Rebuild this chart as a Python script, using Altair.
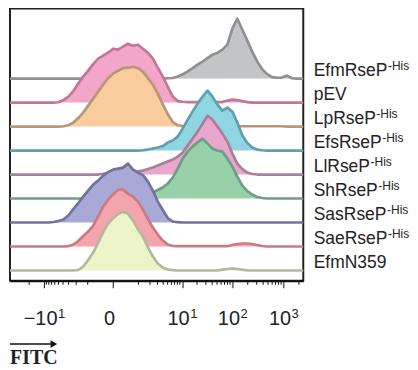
import altair as alt
import pandas as pd

# ---------------- data ----------------
NAMES = ["EfmRseP", "pEV", "LpRseP", "EfsRseP", "LlRseP", "ShRseP", "SasRseP", "SaeRseP", "EfmN359"]
SUPS = ["-His", "", "-His", "-His", "-His", "-His", "-His", "-His", ""]

FILLS = ["#c3c4c8", "#f2a7c9", "#f9cc9e", "#90d6e0", "#e9a8cb", "#98d1a9", "#a9a9d8", "#f4a5ab", "#eef4c9"]
LINES = ["#8f9094", "#c0779a", "#b8967a", "#5f9fae", "#a8809c", "#6f9e86", "#70729e", "#c97a84", "#b5b99c"]

# FITC intensity grid (biexponential-like axis)
FITC = [-48, -40.6, -32.4, -25.8, -20.5, -16.3, -13.0, -10.3, -8.12, -6.40,
        -5.02, -3.92, -3.04, -2.34, -1.78, -1.33, -0.97, -0.68, -0.45, -0.265,
        -0.118, 0, 0.118, 0.265, 0.45, 0.68, 0.97, 1.33, 1.78, 2.34,
        3.04, 3.92, 5.02, 6.40, 8.12, 10.3, 13.0, 16.3, 20.5, 25.8,
        32.4, 40.6, 50.9, 63.7, 79.8, 99.9, 125, 157, 196, 245,
        307, 383, 480, 600, 750, 938, 1173, 1467, 1835, 2295,
        2435]

EFM = [0, 0, 0, 0, 0, 0, 0, 0, 0, 0,
       0, 0, 0, 0, 0, 0, 0, 0, 0, 0,
       0, 0, 0, 0, 0, 0, 0, 0, 0, 0,
       0, 0, 0.3, 0.6, 2, 4.3, 7.3, 10.5, 14, 17,
       20.5, 24, 26, 29, 34, 50, 60, 49, 38, 27,
       17, 9.5, 4.5, 1.5, 0.8, 1, 3, 0.3, 0, 0,
       0]
PEV = [0, 0, 0, 0, 0, 0, 0, 0, 0, 0,
       0.3, 2.5, 6, 11.5, 19, 26, 32, 38.5, 44, 47,
       50, 54, 53, 56, 59, 57, 58, 54, 50, 44,
       35, 26, 16, 6, 1.5, 0.8, 0.5, 0.5, 0.5, 0.5,
       0.5, 0.5, 0.5, 0.5, 2, 3, 2.5, 1.5, 0.5, 0,
       0, 0, 0, 0, 0, 0, 0, 0, 0, 0,
       0]
LP = [0, 0, 0, 0, 0, 0, 0, 0, 0, 0,
      0, 0.3, 1.3, 4, 8.5, 14, 21, 28, 35, 42,
      48.5, 53, 56, 58.5, 59, 60, 58.5, 55, 48.5, 42,
      33, 22.5, 12.5, 4.5, 1.3, 0.5, 0.3, 0.3, 0.3, 0.3,
      0.3, 0.3, 0.3, 0.3, 0.3, 0.3, 0.3, 0.3, 0.3, 0.3,
      0.3, 0.3, 0.3, 0.3, 0.3, 0.3, 0, 0, 0, 0,
      0]
EFS = [0, 0, 0, 0, 0, 0, 0, 0, 0, 0,
       0, 0, 0, 0, 0, 0, 0, 0, 0, 0,
       0, 0, 0, 0, 0, 0, 0, 0.3, 1, 2,
       3, 4.5, 8, 10, 14, 22, 31, 39, 47, 54,
       60, 54, 46, 40, 43, 39, 28, 15, 7.5, 3,
       1, 0.3, 0, 0, 0, 0, 0, 0, 0, 0,
       0]
LL = [0, 0, 0, 0, 0, 0, 0, 0, 0, 0,
      0, 0, 0, 0, 0, 0, 0, 0, 0, 0.8,
      1.2, 1.5, 1.8, 2, 2.3, 2.7, 3.3, 4, 5.5, 7,
      9, 11, 13, 15, 18, 22, 29, 36, 43, 51,
      59, 55, 48, 41, 33, 21, 11, 5.5, 2, 0.5,
      0, 0, 0, 0, 0, 0, 0, 0, 0, 0,
      0]
SH = [0, 0, 0, 0, 0, 0, 0, 0, 0, 0,
      0, 0, 0, 0, 0, 0, 0, 0, 0, 0,
      0, 0, 0, 0, 0, 0.5, 1, 2, 3.5, 6,
      8.5, 11, 15, 21, 30, 40, 47, 52, 56, 60,
      55, 50, 48, 47, 40, 32, 22, 13, 7.5, 4,
      1.5, 0.5, 0, 0, 0, 0, 0, 0, 0, 0,
      0]
SAS = [0, 0, 0, 0, 0, 0, 0, 0, 0, 0.5,
       1.5, 3, 7, 13.5, 19.5, 26, 32, 38, 42, 47,
       50.5, 53, 54, 55, 59, 53, 50, 47.5, 41, 32,
       21, 12.5, 4.5, 1, 0.3, 0, 0, 0, 0, 0,
       0, 0, 0, 0, 0, 0, 0, 0, 0, 0,
       0, 0, 0, 0, 0, 0, 0, 0, 0, 0,
       0]
SAE = [0, 0, 0, 0, 0, 0, 0, 0, 0, 0,
       0, 0, 0.3, 2, 5.5, 10.5, 15, 21, 30, 40,
       47, 52, 57, 57, 53, 50, 45, 37, 27.5, 19,
       12, 6, 2, 0.5, 0.3, 0.3, 0.3, 0.3, 0.3, 0.3,
       0.3, 0.3, 0.3, 0.3, 0.3, 1.5, 2.5, 3, 3, 2.5,
       1.5, 0.5, 0, 0, 0, 0, 0, 0, 0, 0,
       0]
N359 = [0, 0, 0, 0, 0, 0, 0, 0, 0, 0,
        0, 0, 0, 0, 0.5, 4, 10.5, 18, 28, 38.5,
        47, 52.5, 56.5, 59, 57, 50, 41.5, 34, 23.5, 14,
        7, 3, 1, 0.3, 0, 0, 0, 0, 0, 0,
        0, 0, 0, 0.8, 1.5, 2, 1.5, 0.8, 0, 0,
        0, 0, 0, 0, 0, 0, 0, 0, 0, 0,
        0]
HEIGHTS = [EFM, PEV, LP, EFS, LL, SH, SAS, SAE, N359]

MAJOR_TICKS = [-10, 0, 10, 100, 1000]
EXP_TICKS = [-10, 10, 100, 1000]
EXPONENTS = ["1", "1", "2", "3"]
MINOR_TICKS = [-20, -9, -8, -7, -6, -5, -4, -3, -2, -1,
               1, 2, 3, 4, 5, 6, 7, 8, 9,
               20, 30, 40, 50, 60, 70, 80, 90,
               200, 300, 400, 500, 600, 700, 800, 900, 2000]

# ---------------- layout / style ----------------
W, H = 294, 273
SPACING = 24.05
BOTTOM = 10.3
LABEL_FONT = "Liberation Sans"
LABEL_SIZE = 17.5
SUP_SIZE = 12
TICK_FONT = 20

CHAR_W = {"E": .667, "f": .278, "m": .833, "R": .722, "s": .5, "e": .556, "P": .667,
          "p": .556, "V": .667, "L": .556, "l": .222, "S": .667, "h": .556, "a": .556,
          "N": .722, "3": .556, "5": .556, "9": .556, "1": .556, "0": .556,
          "\u2212": .584}


def text_width(s, size):
    return sum(CHAR_W.get(c, .556) for c in s) * size


xsc = alt.Scale(type="symlog", constant=0.47, domain=[FITC[0], FITC[-1]], nice=False)
ysc = alt.Scale(domain=[0, H], nice=False, zero=False)

LABEL_SHIFT = -4
label_expr = "datum.value == -10 ? '\u221210' : datum.value == 0 ? '0' : '10'"
xaxis = alt.Axis(values=MAJOR_TICKS, labelExpr=label_expr, title=None, grid=False,
                 tickSize=7, tickColor="#111", tickWidth=1, domainColor="#111",
                 domainWidth=2, labelFont=LABEL_FONT, labelFontSize=TICK_FONT,
                 labelColor="#222", labelPadding=21, labelOverlap=False,
                 labelFlush=False, labelOffset=LABEL_SHIFT)


def X(field="x"):
    return alt.X(f"{field}:Q", scale=xsc, axis=xaxis)


layers = []

# minor ticks
minor_df = pd.DataFrame({"x": MINOR_TICKS})
layers.append(alt.Chart(minor_df).mark_rule(color="#111", strokeWidth=1).encode(
    x=X(), y=alt.value(H), y2=alt.value(H + 4)))

bases = []
for i, h in enumerate(HEIGHTS):
    base = BOTTOM + (len(HEIGHTS) - 1 - i) * SPACING
    bases.append(base)
    df = pd.DataFrame({"x": FITC, "top": [base + v for v in h], "base": base})
    area = alt.Chart(df).mark_area(fill=FILLS[i], opacity=1).encode(
        x=X(), y=alt.Y("top:Q", scale=ysc, axis=None), y2="base:Q")
    line = alt.Chart(df).mark_line(color=LINES[i], strokeWidth=2.7,
                                   strokeJoin="round").encode(
        x=X(), y=alt.Y("top:Q", scale=ysc, axis=None))
    layers += [area, line]

# exponents of the tick labels
for v, e in zip(EXP_TICKS, EXPONENTS):
    base_txt = "\u221210" if v < 0 else "10"
    dx = LABEL_SHIFT + text_width(base_txt, TICK_FONT) / 2 + 1
    edf = pd.DataFrame({"x": [v], "t": [e]})
    layers.append(alt.Chart(edf).mark_text(
        align="left", baseline="alphabetic", font=LABEL_FONT, fontSize=13,
        color="#222", dx=dx).encode(
        x=X(), y=alt.value(310.5), text="t:N"))

# right-side labels
LX = 304.5
lab_df = pd.DataFrame({"name": NAMES, "base": bases})
layers.append(alt.Chart(lab_df).mark_text(
    align="left", baseline="alphabetic", font=LABEL_FONT, fontSize=LABEL_SIZE,
    color="#222", dy=-2.5).encode(
    x=alt.value(LX), y=alt.Y("base:Q", scale=ysc, axis=None), text="name:N"))

for name, sup, base in zip(NAMES, SUPS, bases):
    if not sup:
        continue
    sdf = pd.DataFrame({"base": [base], "t": [sup]})
    layers.append(alt.Chart(sdf).mark_text(
        align="left", baseline="alphabetic", font=LABEL_FONT, fontSize=SUP_SIZE,
        color="#222", dy=-8.5).encode(
        x=alt.value(LX + text_width(name, LABEL_SIZE) + 0.5),
        y=alt.Y("base:Q", scale=ysc, axis=None), text="t:N"))

# FITC axis title with arrow
one = pd.DataFrame({"a": [0]})
layers.append(alt.Chart(one).mark_rule(color="#111", strokeWidth=1.5).encode(
    x=alt.value(0), x2=alt.value(43), y=alt.value(336.5)))
layers.append(alt.Chart(one).mark_point(shape="triangle-right", filled=True,
                                         color="#111", size=60, opacity=1).encode(
    x=alt.value(44), y=alt.value(336.5)))
layers.append(alt.Chart(one).mark_text(
    align="left", baseline="alphabetic", font="Liberation Serif", fontWeight="bold",
    fontSize=20, color="#222").encode(
    x=alt.value(0), y=alt.value(356), text=alt.value("FITC")))

chart = alt.layer(*layers).properties(width=W, height=H, padding=0).configure_view(
    stroke="#222", strokeWidth=2)

chart.save("out.html", embed_options={"renderer": "svg", "actions": False})
